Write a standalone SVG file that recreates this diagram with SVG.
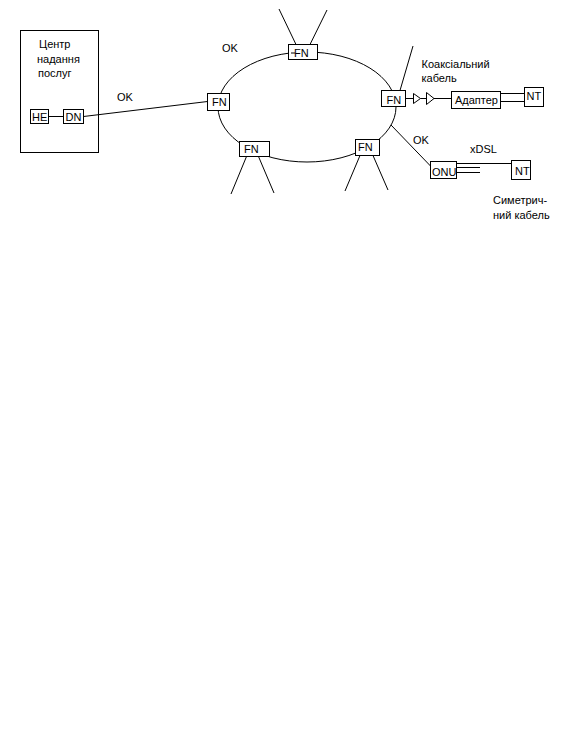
<svg xmlns="http://www.w3.org/2000/svg" width="570" height="739" viewBox="0 0 570 739">
<style>
.b{fill:#fff;stroke:#000;stroke-width:1}
.c{fill:none;stroke:#000;stroke-width:1}
.l{fill:none;stroke:#000;stroke-width:1}
text{font-family:"Liberation Sans",Arial,sans-serif;font-size:11px;fill:#000}
</style>
<rect width="570" height="739" fill="#fff"/>
<g id="center">
<rect class="c" x="20.5" y="30.5" width="78" height="122"/>
<text x="39" y="48">Центр</text>
<text x="37" y="62.5">надання</text>
<text x="38" y="77">послуг</text>
</g>
<g id="connectors">
<ellipse class="l" cx="307" cy="107" rx="89" ry="55"/>
<line class="l" x1="49" y1="116.5" x2="63.5" y2="116.5"/>
<line class="l" x1="83.5" y1="116.5" x2="207.5" y2="101.5"/>
<line class="l" x1="279" y1="9" x2="296" y2="44.5"/>
<line class="l" x1="327" y1="10" x2="310" y2="44.5"/>
<line class="l" x1="246.5" y1="156.5" x2="231" y2="194"/>
<line class="l" x1="258.5" y1="156.5" x2="274" y2="193"/>
<line class="l" x1="360" y1="155.5" x2="345" y2="191"/>
<line class="l" x1="373" y1="155.5" x2="388" y2="190"/>
<line class="l" x1="400" y1="90.5" x2="413" y2="46"/>
<line class="l" x1="391" y1="125" x2="430.5" y2="166"/>
<polyline class="l" points="405.5,98.5 413.5,98.5"/>
<polygon class="l" points="413.5,93.5 413.5,103.5 420.5,98.5"/>
<line class="l" x1="420.5" y1="98.5" x2="426.5" y2="98.5"/>
<polygon class="l" points="426.5,92.5 426.5,104.5 434,98.5"/>
<line class="l" x1="434" y1="98.5" x2="451.5" y2="98.5"/>
<line class="l" x1="500.5" y1="93.5" x2="524.5" y2="93.5"/>
<line class="l" x1="500.5" y1="101.5" x2="524.5" y2="101.5"/>
<line class="l" x1="456.5" y1="163.5" x2="511.5" y2="163.5"/>
<line class="l" x1="456.5" y1="167.5" x2="480" y2="167.5"/>
<line class="l" x1="456.5" y1="172.5" x2="480" y2="172.5"/>
</g>
<g id="HE"><rect class="b" x="30.5" y="109.5" width="18" height="14"/><text x="32" y="121">HE</text></g>
<g id="DN"><rect class="b" x="63.5" y="109.5" width="20" height="14"/><text x="65.5" y="121">DN</text></g>
<g id="FN-left"><rect class="b" x="207.5" y="93.5" width="22" height="17"/><text x="212" y="105.5">FN</text></g>
<g id="FN-top"><rect class="b" x="288.5" y="44.5" width="29" height="15"/><line class="l" x1="291" y1="53" x2="295" y2="53"/><text x="294" y="56.5">FN</text></g>
<g id="FN-right"><rect class="b" x="381.5" y="90.5" width="24" height="16"/><text x="386.5" y="103.5">FN</text></g>
<g id="FN-bottom-left"><rect class="b" x="239.5" y="141.5" width="30" height="15"/><text x="244" y="153">FN</text></g>
<g id="FN-bottom-right"><rect class="b" x="355.5" y="139.5" width="24" height="16"/><text x="358" y="151">FN</text></g>
<g id="Adapter"><rect class="b" x="451.5" y="91.5" width="49" height="17"/><text x="455" y="104">Адаптер</text></g>
<g id="NT-top"><rect class="b" x="524.5" y="87.5" width="19" height="19"/><text x="526.5" y="100">NT</text></g>
<g id="ONU"><rect class="b" x="430.5" y="161.5" width="26" height="17"/><text x="432" y="175.5">ONU</text></g>
<g id="NT-bottom"><rect class="b" x="511.5" y="160.5" width="19" height="19"/><text x="515" y="175">NT</text></g>
<g id="labels">
<text x="117" y="101">OK</text>
<text x="222" y="52">OK</text>
<text x="413" y="143.5">OK</text>
<text x="421.5" y="68">Коаксіальний</text>
<text x="421.5" y="81.5">кабель</text>
<text x="470" y="153">xDSL</text>
<text x="493" y="204">Симетрич-</text>
<text x="493" y="218.5">ний кабель</text>
</g>
</svg>
